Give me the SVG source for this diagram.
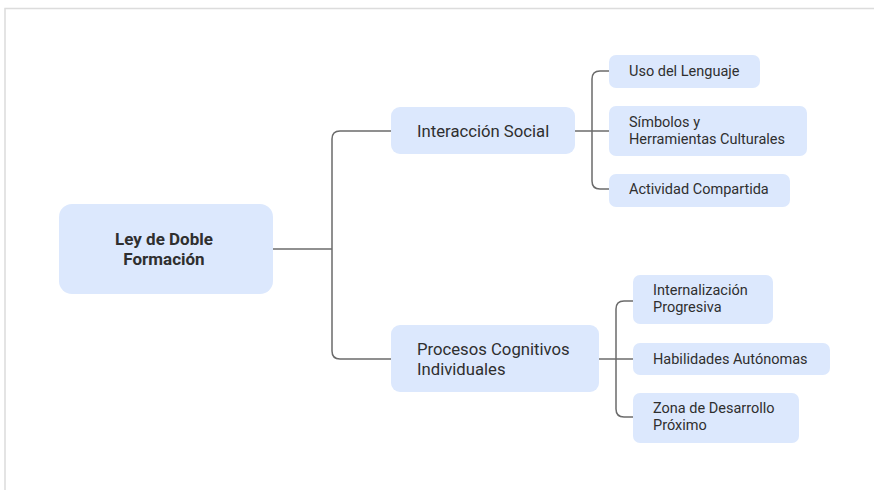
<svg xmlns="http://www.w3.org/2000/svg" width="874" height="490" viewBox="0 0 874 490">
<style>
.frame{fill:none;stroke:#dcdcdc;stroke-width:1.5}
.box{fill:#dce8fd}
.c{fill:none;stroke:#6b6b6b;stroke-width:1.5}
.t{font-family:Roboto,"Liberation Sans",sans-serif;fill:#2f2f2f;dominant-baseline:central}
.root{font-size:17px;font-weight:bold;text-anchor:middle}
.l1{font-size:16.7px}
.l2{font-size:14.5px}
</style>
<rect width="874" height="490" fill="#ffffff"/>
<path class="frame" d="M5,490 V8.5 H874"/>
<g id="connectors">
<path class="c" d="M264,249 H332"/>
<path class="c" d="M332,249 V139 Q332,131 340,131 H399"/>
<path class="c" d="M332,249 V351 Q332,359 340,359 H399"/>
<path class="c" d="M566,131 H617"/>
<path class="c" d="M617,71 H600 Q592,71 592,79 V181 Q592,189 600,189 H617"/>
<path class="c" d="M591,359 H642"/>
<path class="c" d="M642,301 H624 Q616,301 616,309 V409 Q616,417 624,417 H642"/>
</g>
<g id="root">
<rect class="box" x="59" y="204" width="214" height="90" rx="13"/>
<text class="t root" x="164" y="239">Ley de Doble</text>
<text class="t root" x="164" y="259">Formación</text>
</g>
<g id="interaccion">
<rect class="box" x="391" y="107" width="184" height="47" rx="9"/>
<text class="t l1" x="417" y="131">Interacción Social</text>
</g>
<g id="procesos">
<rect class="box" x="391" y="325" width="208" height="67" rx="9"/>
<text class="t l1" x="417" y="349">Procesos Cognitivos</text>
<text class="t l1" x="417" y="369">Individuales</text>
</g>
<g id="uso">
<rect class="box" x="609" y="55" width="151" height="33" rx="7"/>
<text class="t l2" x="629" y="71">Uso del Lenguaje</text>
</g>
<g id="simbolos">
<rect class="box" x="609" y="106" width="198" height="50" rx="7"/>
<text class="t l2" x="629" y="122">Símbolos y</text>
<text class="t l2" x="629" y="139">Herramientas Culturales</text>
</g>
<g id="actividad">
<rect class="box" x="609" y="174" width="181" height="33" rx="7"/>
<text class="t l2" x="629" y="189">Actividad Compartida</text>
</g>
<g id="internalizacion">
<rect class="box" x="633" y="275" width="140" height="49" rx="7"/>
<text class="t l2" x="653" y="290">Internalización</text>
<text class="t l2" x="653" y="307">Progresiva</text>
</g>
<g id="habilidades">
<rect class="box" x="633" y="343" width="197" height="32" rx="7"/>
<text class="t l2" x="653" y="359">Habilidades Autónomas</text>
</g>
<g id="zona">
<rect class="box" x="633" y="393" width="166" height="50" rx="7"/>
<text class="t l2" x="653" y="408">Zona de Desarrollo</text>
<text class="t l2" x="653" y="425">Próximo</text>
</g>
</svg>
